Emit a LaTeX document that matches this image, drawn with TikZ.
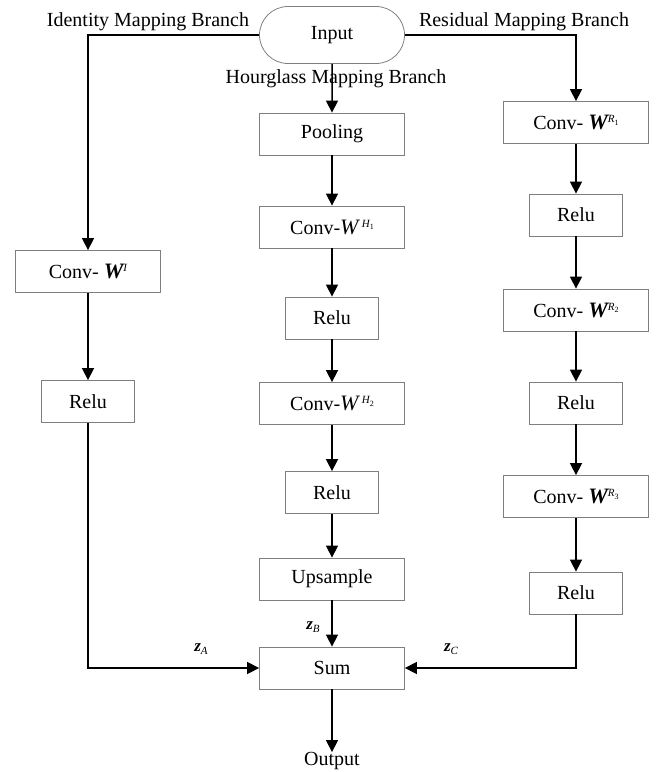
\documentclass[tikz,border=0pt]{standalone}
\usepackage{fontspec}
\setmainfont{Liberation Serif}
\usepackage{tikz}
\usetikzlibrary{arrows.meta,calc,positioning,shapes.misc}
\definecolor{boxEdge}{HTML}{7F7F7F}
\definecolor{flowCol}{HTML}{000000}
\newcommand{\bigsz}{\fontsize{20}{24}\selectfont}
\newcommand{\supsz}{\fontsize{11}{11}\selectfont}
\newcommand{\subsz}{\fontsize{8}{8}\selectfont}
% W with branch superscript (H: plain italic, R and I: bold italic)
\newcommand{\wH}[1]{{\fontsize{22}{22}\selectfont\itshape W}\,\raisebox{7pt}{\supsz\itshape H\raisebox{-2.5pt}{\subsz\upshape #1}}}
\newcommand{\wR}[1]{{\fontsize{22}{22}\selectfont\bfseries\itshape W}\raisebox{7pt}{\supsz\itshape R\raisebox{-2.5pt}{\subsz\upshape #1}}}
\newcommand{\wI}{{\fontsize{22}{22}\selectfont\bfseries\itshape W}\raisebox{7pt}{\supsz\itshape I}}
\newcommand{\zlab}[1]{{\fontsize{17}{17}\selectfont\bfseries\itshape z}\raisebox{-3pt}{\supsz\itshape #1}}
\tikzset{
  blk/.style={draw=boxEdge, line width=0.8pt, minimum width=145pt, minimum height=42pt,
              font=\bigsz, inner sep=0pt, align=center},
  blks/.style={blk, minimum width=93pt},
  term/.style={draw=boxEdge, line width=0.8pt, rounded rectangle, minimum width=145pt,
               minimum height=57pt, font=\bigsz, inner sep=0pt},
  brlbl/.style={font=\bigsz, inner sep=0pt},
  flow/.style={-{Triangle[length=12pt,width=12pt]}, line width=1.5pt, flowCol},
  zl/.style={inner sep=0pt},
}
\begin{document}
\begin{tikzpicture}[x=1pt,y=-1pt]
  \def\L{88}\def\M{332}\def\R{576}
  \useasboundingbox (0,0) rectangle (657,772);

  \node[term] (in) at (\M,35) {Input};
  \node[brlbl] (lblI) at (148,22) {Identity Mapping Branch};
  \node[brlbl] (lblR) at (524,22) {Residual Mapping Branch};
  \node[brlbl] (lblH) at (336,79) {Hourglass Mapping Branch};

  % hourglass branch
  \node[blk]  (pool) at (\M,134)   {Pooling};
  \node[blk]  (ch1)  at (\M,227)   {Conv-\wH{1}};
  \node[blks] (rh1)  at (\M,318)   {Relu};
  \node[blk]  (ch2)  at (\M,403.5) {Conv-\wH{2}};
  \node[blks] (rh2)  at (\M,492.5) {Relu};
  \node[blk]  (up)   at (\M,579)   {Upsample};
  \node[blk]  (sum)  at (\M,668)   {Sum};
  \node[brlbl] (out) at (\M,761)   {Output};

  % identity branch
  \node[blk]  (ci)   at (\L,271.5) {Conv- \wI};
  \node[blks] (ri)   at (\L,401.5) {Relu};

  % residual branch
  \node[blk]  (cr1)  at (\R,122.5) {Conv- \wR{1}};
  \node[blks] (rr1)  at (\R,215)   {Relu};
  \node[blk]  (cr2)  at (\R,310)   {Conv- \wR{2}};
  \node[blks] (rr2)  at (\R,403)   {Relu};
  \node[blk]  (cr3)  at (\R,496.5) {Conv- \wR{3}};
  \node[blks] (rr3)  at (\R,593)   {Relu};

  \node[zl] (za) at (201,649) {\zlab{A}};
  \node[zl] (zb) at (313,627) {\zlab{B}};
  \node[zl] (zc) at (451,649) {\zlab{C}};

  \draw[flow] (in) -- (pool);
  \draw[flow] (pool) -- (ch1);
  \draw[flow] (ch1) -- (rh1);
  \draw[flow] (rh1) -- (ch2);
  \draw[flow] (ch2) -- (rh2);
  \draw[flow] (rh2) -- (up);
  \draw[flow] (up) -- (sum);
  \draw[flow] (sum) -- (out);

  \draw[flow] (in.west) -| (ci.north);
  \draw[flow] (ci) -- (ri);
  \draw[flow] (ri.south) |- (sum.west);

  \draw[flow] (in.east) -| (cr1.north);
  \draw[flow] (cr1) -- (rr1);
  \draw[flow] (rr1) -- (cr2);
  \draw[flow] (cr2) -- (rr2);
  \draw[flow] (rr2) -- (cr3);
  \draw[flow] (cr3) -- (rr3);
  \draw[flow] (rr3.south) |- (sum.east);
\end{tikzpicture}
\end{document}
